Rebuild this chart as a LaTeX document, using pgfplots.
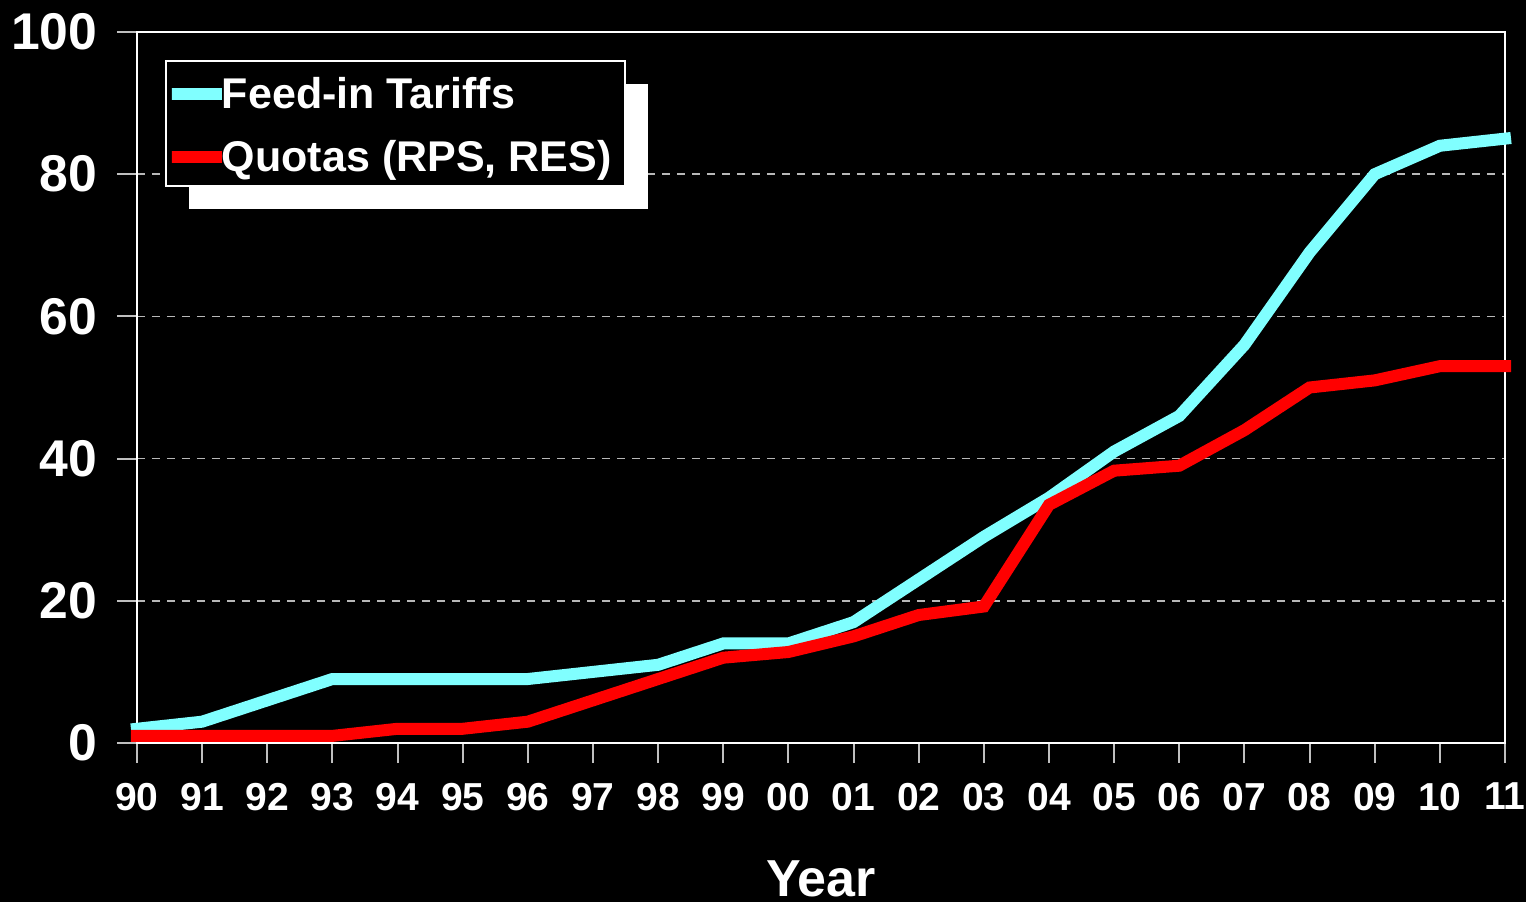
\documentclass[border=0pt]{standalone}
\usepackage{fontspec}
\setmainfont{Liberation Sans}
\usepackage{pgfplots}
\pgfplotsset{compat=1.18}
\usetikzlibrary{shadows}
\makeatletter
\tikzset{nopreaction/.code={\let\tikz@preactions\pgfutil@empty}}
\makeatother
\definecolor{fitcyan}{HTML}{80FFFF}
\definecolor{quotared}{HTML}{FF0000}
\begin{document}
\begin{tikzpicture}
\fill[black] (-41.1pt,-47.7pt) rectangle (416.7pt,222.9pt);
\begin{axis}[
 at={(0,0)}, anchor=south west,
 scale only axis, width=410.4pt, height=213.3pt,
 xmin=0, xmax=21, ymin=0, ymax=100,
 xtick={0,...,21},
 xticklabels={90,91,92,93,94,95,96,97,98,99,00,01,02,03,04,05,06,07,08,09,10,11},
 ytick={0,20,...,100},
 axis line style={white, line width=0.6pt},
 tick style={white!75!black, line width=0.6pt},
 major tick length=6pt,
 tick align=outside,
 xtick pos=bottom, ytick pos=left,
 ymajorgrids, grid style={white!72!black, dash pattern=on 2.4pt off 2.1pt, line width=0.45pt},
 /pgf/number format/assume math mode=true,
 x tick label style={font=\bfseries\fontsize{11.7}{14}\selectfont, text=white, yshift=-2.4pt},
 y tick label style={font=\bfseries\fontsize{15.5}{18}\selectfont, text=white, xshift=-2.4pt},
 xlabel={Year},
 xlabel style={font=\bfseries\fontsize{15.6}{19}\selectfont, text=white, at={(axis description cs:0.5,0)}, anchor=base, yshift=-46pt},
 clip=false,
 legend cell align=left,
 legend image code/.code={\useasboundingbox[nopreaction] (0pt,-0.6pt) rectangle (13.2pt,-0.6pt); \draw[#1, nopreaction, line width=3.6pt, line cap=butt] (0pt,-0.6pt) -- (15pt,-0.6pt);},
 legend style={at={(0,1)}, anchor=north west, xshift=8.4pt, yshift=-8.4pt,
   fill=black, draw=white, line width=0.6pt, text=white,
   font=\bfseries\fontsize{12.9}{15}\selectfont,
   inner xsep=0pt, inner ysep=0pt, row sep=0.5pt, column sep=0pt,
   nodes={inner xsep=0pt, inner ysep=0pt, text height=14.2pt, text depth=4.3pt},
   drop shadow={fill=white, opacity=1, shadow xshift=6.9pt, shadow yshift=-6.9pt}},
]
\addplot[fitcyan, line width=3.6pt, line cap=rect, line join=miter] coordinates {
(0,2) (1,3) (2,6) (3,9) (4,9) (5,9) (6,9) (7,10) (8,11) (9,14) (10,14)
(11,17) (12,23) (13,29) (14,34.5) (15,41) (16,46) (17,56) (18,69) (19,80) (20,84) (21,85)};
\addlegendentry{Feed-in Tariffs}
\addplot[quotared, line width=3.6pt, line cap=rect, line join=miter] coordinates {
(0,1) (1,1) (2,1) (3,1) (4,2) (5,2) (6,3) (7,6) (8,9) (9,12) (10,12.8)
(11,15) (12,18) (13,19.2) (14,33.5) (15,38.3) (16,39) (17,44) (18,50) (19,51) (20,53) (21,53)};
\addlegendentry{Quotas (RPS, RES)\hspace{4.2pt}\mbox{}}
\end{axis}
\pgfresetboundingbox
\path (-41.1pt,-47.7pt) rectangle (416.7pt,222.9pt);
\end{tikzpicture}
\end{document}
